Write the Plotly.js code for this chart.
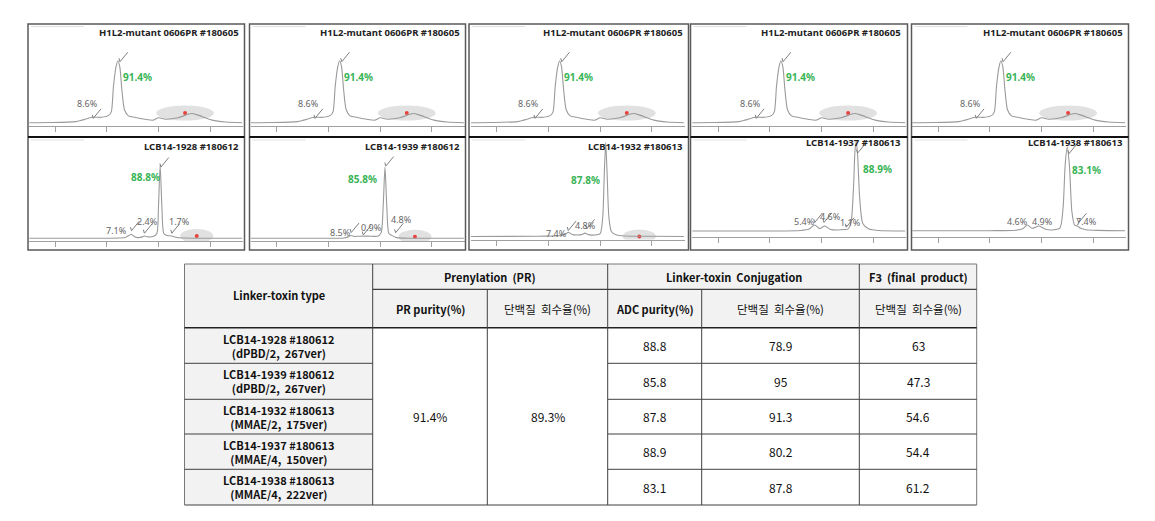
<!DOCTYPE html>
<html><head><meta charset="utf-8">
<script src="https://cdn.plot.ly/plotly-3.0.1.min.js"></script>
<style>html,body{margin:0;padding:0;background:#fff}#chart{width:1155px;height:521px}</style>
</head><body><div id="chart"></div>
<script>
// ================= DATA =================
// Prenylation (PR) chromatogram – same sample shown in all five upper panels
const prTitle = 'H1L2-mutant 0606PR #180605';
const prTime   = [2.5, 4.5, 7.0, 7.6, 8.6, 9.5, 10.2, 10.45, 10.65, 10.9, 11.08, 11.27, 11.47, 11.72, 12.1, 12.75, 13.7, 14.5, 15.0, 15.7, 16.9, 18.2, 18.9, 20.2, 21.5, 23.1];
const prSignal = [0.3, 0.5, 1.5, 3, 6, 6, 8, 12, 38, 59, 65.6, 59, 35, 14, 7.5, 6, 4, 3, 5.5, 4, 5.5, 10, 8, 3, 1, 0.2];
const prPeakTime   = [8.7, 11.29];
const prPeakSignal = [4.9, 64.5];
const prPeakPct    = ['8.6%', '91.4%'];

// Linker-toxin conjugation (ADC) chromatograms
const adcTitles = ['LCB14-1928 #180612', 'LCB14-1939 #180612', 'LCB14-1932 #180613', 'LCB14-1937 #180613', 'LCB14-1938 #180613'];
const adcTime1   = [2.5, 8, 11.3, 11.8, 12.15, 12.37, 12.6, 12.85, 13.4, 13.65, 14.0, 14.5, 14.85, 15.01, 15.17, 15.34, 15.53, 15.82, 16.3, 16.8, 17.6, 20, 23.1];
const adcSignal1 = [0, 0, 0.3, 0.8, 3, 4.2, 2.5, 1, 1.2, 2.4, 1.5, 1.8, 5, 33, 77, 33, 5, 3, 2.4, 0.8, 0.3, 0, 0];
const adcTime2   = [2.5, 9, 11.5, 11.9, 12.18, 12.5, 13.0, 13.8, 14.5, 14.82, 15.1, 15.3, 15.47, 15.64, 15.85, 16.12, 16.5, 17.2, 20, 23.1];
const adcSignal2 = [0, 0, 0.3, 1.5, 3, 2, 2.2, 2.3, 2, 2.5, 6, 35, 75, 35, 5, 3.2, 1, 0.2, 0, 0];
const adcTime3   = [2.5, 9, 11.3, 11.7, 11.92, 12.3, 12.8, 13.2, 13.54, 13.9, 14.5, 15.0, 15.25, 15.4, 15.54, 15.68, 15.85, 16.1, 16.6, 17.5, 20, 23.1];
const adcSignal3 = [0, 0.3, 1, 3, 4.5, 2, 1.5, 2, 3.5, 2, 1.5, 3, 20, 65, 99, 65, 20, 5, 1.5, 0.5, 0.3, 0];
const adcTime4   = [2.5, 10, 13.0, 13.8, 14.35, 14.85, 15.32, 15.9, 16.6, 17.2, 17.57, 17.85, 18.1, 18.25, 18.37, 18.5, 18.7, 19.0, 19.6, 20.5, 23.1];
const adcSignal4 = [0, 0, 0.5, 2, 6.3, 2.5, 5.3, 1.5, 1, 1.5, 2, 8, 45, 85, 94, 80, 35, 8, 2, 0.5, 0];
const adcTime5   = [2.5, 10, 12.5, 13.2, 13.63, 14.1, 14.77, 15.4, 16.2, 16.8, 17.1, 17.3, 17.5, 17.7, 17.95, 18.2, 18.47, 18.8, 19.3, 20.5, 23.1];
const adcSignal5 = [0, 0, 0.5, 2, 6, 2.5, 5, 1.5, 1, 3, 25, 70, 88, 70, 20, 6, 5, 2.5, 1, 0.3, 0];
const adcMainPct = ['88.8%', '85.8%', '87.8%', '88.9%', '83.1%'];
const adcMinorPct = [['7.1%', '2.4%', '1.7%'], ['8.5%', '0.9%', '4.8%'], ['7.4%', '4.8%'], ['5.4%', '4.6%', '1.1%'], ['4.6%', '4.9%', '7.4%']];
const adcMarkTime   = [[12.4, 13.65, 15.25, 16.3], [12.2, 13.37, 15.55, 16.5], [11.92, 13.7], [14.35, 15.25, 17.4, 18.5], [17.66, 18.6]];
const adcMarkSignal = [[8, 5.3, 75, 5.3], [6, 3.5, 76, 5.9], [6.3, 8], [9, 9, 4, 82], [81, 8.4]];

// Table
const linkerToxinType   = ['LCB14-1928 #180612', 'LCB14-1939 #180612', 'LCB14-1932 #180613', 'LCB14-1937 #180613', 'LCB14-1938 #180613'];
const linkerToxinDetail = ['(dPBD/2,\u00a0 267ver)', '(dPBD/2,\u00a0 267ver)', '(MMAE/2,\u00a0 175ver)', '(MMAE/4,\u00a0 150ver)', '(MMAE/4,\u00a0 222ver)'];
const prPurity     = '91.4%';
const prRecovery   = '89.3%';
const adcPurity    = ['88.8', '85.8', '87.8', '88.9', '83.1'];
const conjRecovery = ['78.9', '95', '91.3', '80.2', '87.8'];
const f3Recovery   = ['63', '47.3', '54.6', '54.4', '61.2'];

// ================= LAYOUT GEOMETRY =================
const W = 1155, H = 521;
const fx = p => p / W;
const fy = p => 1 - p / H;
const SCALE = 0.95;            // px per signal unit
const T_PER_PX = 0.09673;      // minutes per px
const T0 = 2.5, T1 = 23.2;

const frames = [[28, 244.5], [249.5, 465.5], [469, 688.5], [690.5, 907.5], [911.5, 1128.5]];
const xOrigin = [29.15, 250.9, 470.9, 692.2, 912.2];
const frameTop = 24, frameDiv = 137, frameBot = 250;
const topCfg = {top: 28, axis: 126, base: 123};
const botCfg = [
  {top: 139, axis: 241, base: 238.3, title: 146},
  {top: 139, axis: 241, base: 238.3, title: 146},
  {top: 139, axis: 239.5, base: 236.5, title: 146},
  {top: 139, axis: 237, base: 231, title: 142},
  {top: 139, axis: 236.5, base: 230.7, title: 142}
];
// label anchor positions (minutes, signal)
const prLabelPos = [[8.1, 21], [12.94, 48.4]];
const adcMainPos = [[13.71, 64.2], [13.28, 62.1], [13.6, 59.7], [20.47, 65.3], [19.34, 63.9]];
const adcMinorPos = [
  [[10.97, 8.0], [13.97, 17.5], [17.0, 17.5]],
  [[11.12, 5.9], [14.18, 11.6], [17.02, 19.3]],
  [[10.8, 3.5], [13.6, 11.6]],
  [[13.38, 9.8], [15.9, 15.1], [17.83, 8.7]],
  [[12.73, 9.5], [15.15, 9.5], [19.34, 9.5]]
];
// highlighted regions [centre t, centre v, width t, height v]
const prEllipse = [17.58, 10.5, 5.6, 15.8];
const adcEllipse = [[18.71, 2.4, 3.2, 14.7], [18.37, 1.7, 3.2, 14.7], [18.79, 0, 3.2, 14.7], null, null];

const FONT = 'Noto Sans, Liberation Sans, Arial, sans-serif';
const KFONT = 'Noto Sans CJK KR, Noto Sans, sans-serif';
const LINE = '#9a9a9a', MARK = '#808080', GREEN = '#38b455';

const adcTimes = [adcTime1, adcTime2, adcTime3, adcTime4, adcTime5];
const adcSignals = [adcSignal1, adcSignal2, adcSignal3, adcSignal4, adcSignal5];

const data = [], shapes = [], annotations = [];
const layout = {
  width: W, height: H, margin: {l: 0, r: 0, t: 0, b: 0},
  paper_bgcolor: '#fff', plot_bgcolor: 'rgba(0,0,0,0)', showlegend: false,
  font: {family: FONT}
};

function addAxes(n, L, cfg) {
  const xk = 'xaxis' + (n === 1 ? '' : n), yk = 'yaxis' + (n === 1 ? '' : n);
  layout[xk] = {
    domain: [fx(L), fx(L + (T1 - T0) / T_PER_PX)], range: [T0, T1], anchor: 'y' + n,
    showline: true, linecolor: '#a0a0a0', linewidth: 1, ticks: 'outside', ticklen: 5,
    tickcolor: '#a0a0a0', tick0: 0, dtick: 5, showticklabels: false, showgrid: false, zeroline: false, fixedrange: true
  };
  layout[yk] = {
    domain: [fy(cfg.axis), fy(cfg.top)],
    range: [-(cfg.axis - cfg.base) / SCALE, (cfg.base - cfg.top) / SCALE], anchor: 'x' + n,
    visible: false, fixedrange: true
  };
}
function addMark(n, t, v) {
  const ref = {xref: 'x' + n, yref: 'y' + n, x: t, y: v, text: '', showarrow: true, arrowhead: 0,
    arrowwidth: 1, arrowcolor: MARK, standoff: 0, startstandoff: 0};
  annotations.push(Object.assign({}, ref, {ax: 9, ay: -11}));
  annotations.push(Object.assign({}, ref, {ax: -1.5, ay: -5}));
}
function addEllipse(n, e) {
  if (!e) return;
  shapes.push({type: 'circle', xref: 'x' + n, yref: 'y' + n, x0: e[0] - e[2] / 2, x1: e[0] + e[2] / 2,
    y0: e[1] - e[3] / 2, y1: e[1] + e[3] / 2, fillcolor: 'rgba(205,205,205,0.6)', line: {width: 0}, layer: 'below'});
  data.push({type: 'scatter', mode: 'markers', x: [e[0]], y: [e[1]], xaxis: 'x' + n, yaxis: 'y' + n,
    marker: {color: '#e8413c', size: 4}, hoverinfo: 'skip'});
}

for (let i = 0; i < 5; i++) {
  const [fl, fr] = frames[i];
  shapes.push({type: 'rect', xref: 'paper', yref: 'paper', x0: fx(fl), x1: fx(fr), y0: fy(frameBot), y1: fy(frameTop),
    line: {color: '#5a5a5a', width: 1.5}});
  shapes.push({type: 'line', xref: 'paper', yref: 'paper', x0: fx(fl), x1: fx(fr), y0: fy(frameDiv), y1: fy(frameDiv),
    line: {color: '#111', width: 2.2}});
  [frameTop + 2.5, frameDiv + 3].forEach(py => shapes.push({type: 'line', xref: 'paper', yref: 'paper',
    x0: fx(fl + 3), x1: fx(fl + 56), y0: fy(py), y1: fy(py), line: {color: '#e0e0e0', width: 1}}));

  // ---- top (PR) ----
  const nt = i + 1;
  addAxes(nt, xOrigin[i], topCfg);
  addEllipse(nt, prEllipse);
  data.push({type: 'scatter', mode: 'lines', x: prTime, y: prSignal, xaxis: 'x' + nt, yaxis: 'y' + nt,
    line: {color: LINE, width: 1.1, shape: 'spline', smoothing: 0.7}, hoverinfo: 'skip'});
  prPeakTime.forEach((t, k) => addMark(nt, t, prPeakSignal[k]));
  annotations.push({xref: 'x' + nt, yref: 'y' + nt, x: prLabelPos[0][0], y: prLabelPos[0][1], text: prPeakPct[0],
    showarrow: false, font: {size: 9, color: '#666', family: FONT}});
  annotations.push({xref: 'x' + nt, yref: 'y' + nt, x: prLabelPos[1][0], y: prLabelPos[1][1], text: '<b>' + prPeakPct[1] + '</b>',
    showarrow: false, font: {size: 10, color: GREEN, family: FONT}});
  annotations.push({xref: 'paper', yref: 'paper', x: fx(fr - 4), y: fy(33), xanchor: 'right', yanchor: 'middle',
    text: '<b>' + prTitle + '</b>', showarrow: false, font: {size: 9.5, color: '#222', family: FONT}});

  // ---- bottom (ADC) ----
  const nb = i + 6, cfg = botCfg[i];
  addAxes(nb, xOrigin[i], cfg);
  addEllipse(nb, adcEllipse[i]);
  data.push({type: 'scatter', mode: 'lines', x: adcTimes[i], y: adcSignals[i], xaxis: 'x' + nb, yaxis: 'y' + nb,
    line: {color: LINE, width: 1.1, shape: 'spline', smoothing: 0.7}, hoverinfo: 'skip', cliponaxis: false});
  adcMarkTime[i].forEach((t, k) => addMark(nb, t, adcMarkSignal[i][k]));
  adcMinorPct[i].forEach((s, k) => annotations.push({xref: 'x' + nb, yref: 'y' + nb, x: adcMinorPos[i][k][0],
    y: adcMinorPos[i][k][1], text: s, showarrow: false, font: {size: 9, color: '#666', family: FONT}}));
  annotations.push({xref: 'x' + nb, yref: 'y' + nb, x: adcMainPos[i][0], y: adcMainPos[i][1], text: '<b>' + adcMainPct[i] + '</b>',
    showarrow: false, font: {size: 10, color: GREEN, family: FONT}});
  annotations.push({xref: 'paper', yref: 'paper', x: fx(fr - 4), y: fy(cfg.title), xanchor: 'right', yanchor: 'middle',
    text: '<b>' + adcTitles[i] + '</b>', showarrow: false, font: {size: 9.5, color: '#222', family: FONT}});
}

// ================= TABLE =================
const colX = [184.5, 372.7, 487.3, 607.7, 701.7, 859.3, 976.7];
const rowY = [264, 289.3, 327.7, 363.3, 399.3, 434, 469.3, 505];
const TL = '#404040';
const rectP = (x0, x1, y0, y1, fill) => shapes.push({type: 'rect', xref: 'paper', yref: 'paper',
  x0: fx(x0), x1: fx(x1), y0: fy(y1), y1: fy(y0), fillcolor: fill, line: {width: 0}, layer: 'below'});
const lineP = (x0, y0, x1, y1, w, c) => shapes.push({type: 'line', xref: 'paper', yref: 'paper',
  x0: fx(x0), x1: fx(x1), y0: fy(y0), y1: fy(y1), line: {color: c || TL, width: w || 1}});
const textP = (x, y, s, size, bold, fam, col) => annotations.push({xref: 'paper', yref: 'paper', x: fx(x), y: fy(y),
  xanchor: 'center', yanchor: 'middle', showarrow: false, text: bold ? '<b>' + s + '</b>' : s,
  font: {size: size, family: fam || KFONT, color: col || '#111'}});

rectP(colX[0], colX[6], rowY[0], rowY[2], '#f2f2f2');
rectP(colX[0], colX[1], rowY[2], rowY[7], '#f2f2f2');
lineP(colX[0], rowY[0], colX[6], rowY[0], 1, '#777');
lineP(colX[0], rowY[7], colX[6], rowY[7], 1.2);
lineP(colX[0], rowY[0], colX[0], rowY[7], 1, '#777');
lineP(colX[6], rowY[0], colX[6], rowY[7], 1, '#777');
lineP(colX[1], rowY[1], colX[6], rowY[1], 1.2);
lineP(colX[0], rowY[2], colX[6], rowY[2], 1.4, '#222');
[1, 3, 5].forEach(c => lineP(colX[c], rowY[0], colX[c], rowY[7], 1));
[2, 4].forEach(c => lineP(colX[c], rowY[1], colX[c], rowY[7], 1));
for (let r = 3; r <= 6; r++) {
  lineP(colX[0], rowY[r], colX[1], rowY[r], 1);
  lineP(colX[3], rowY[r], colX[6], rowY[r], 1);
}
const cx = c => (colX[c] + colX[c + 1]) / 2;
textP(cx(0), (rowY[0] + rowY[2]) / 2 - 1, 'Linker-toxin type', 11, true);
textP((colX[1] + colX[3]) / 2, (rowY[0] + rowY[1]) / 2, 'Prenylation  (PR)', 11, true);
textP((colX[3] + colX[5]) / 2, (rowY[0] + rowY[1]) / 2, 'Linker-toxin  Conjugation', 11, true);
textP(cx(5), (rowY[0] + rowY[1]) / 2, 'F3  (final  product)', 11, true);
const h2 = (rowY[1] + rowY[2]) / 2;
textP(cx(1), h2, 'PR purity(%)', 11, true);
textP(cx(2), h2, '단백질  회수율(%)', 11.5, false);
textP(cx(3), h2, 'ADC purity(%)', 11, true);
textP(cx(4), h2, '단백질  회수율(%)', 11.5, false);
textP(cx(5), h2, '단백질  회수율(%)', 11.5, false);
for (let r = 0; r < 5; r++) {
  const ym = (rowY[r + 2] + rowY[r + 3]) / 2;
  textP(cx(0), ym, linkerToxinType[r] + '<br>' + linkerToxinDetail[r], 11, true);
  textP(cx(3), ym, adcPurity[r], 12, false);
  textP(cx(4), ym, conjRecovery[r], 12, false);
  textP(cx(5), ym, f3Recovery[r], 12, false);
}
const ymid = (rowY[2] + rowY[7]) / 2;
textP(cx(1), ymid, prPurity, 12, false);
textP(cx(2), ymid, prRecovery, 12, false);

layout.shapes = shapes;
layout.annotations = annotations;
Plotly.newPlot('chart', data, layout, {staticPlot: true, displayModeBar: false});
</script></body></html>
